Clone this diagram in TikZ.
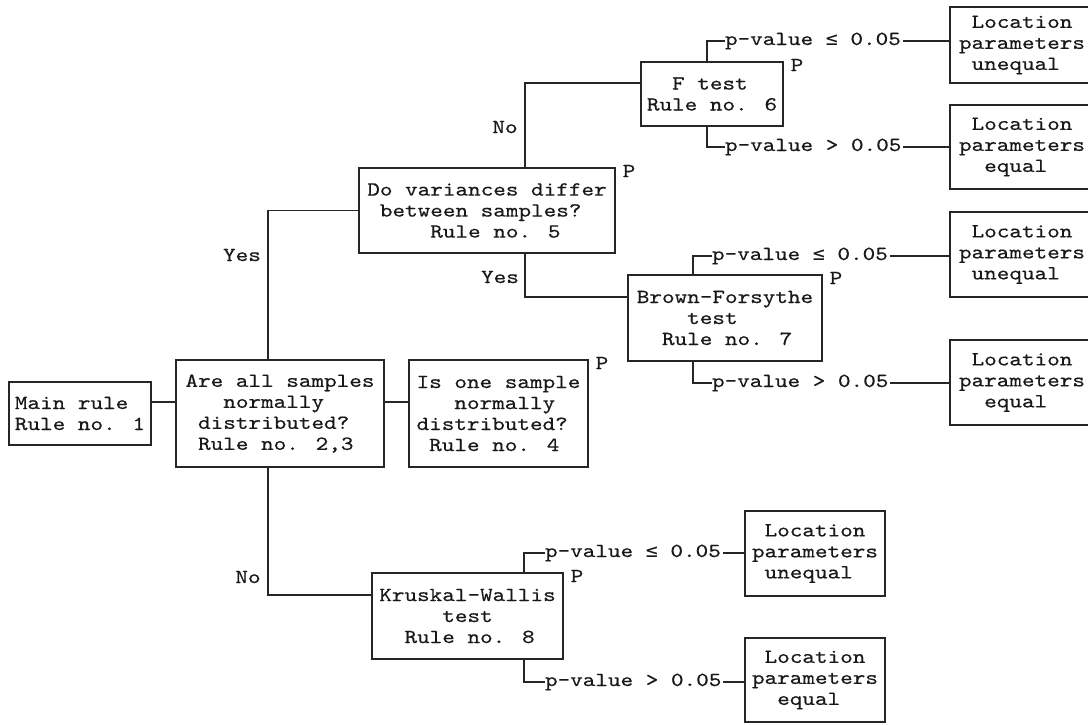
\documentclass[tikz,border=0pt]{standalone}
\usepackage{fontspec}
% typewriter face for all labels, widened to a Courier-like pitch
\newfontfamily\cour{lmmono10-regular.otf}[FakeStretch=1.2, FakeBold=0.4]
\newfontfamily\symmono{DejaVu Sans Mono}
\newcommand\lesym{{\symmono\fontsize{20}{21}\selectfont ≤}}
\newcommand\ind[1]{\hphantom{#1}}

\tikzset{
  txt/.style={font=\cour\fontsize{20}{21}\selectfont, text=black!90},
  box/.style={txt, draw, inner sep=0pt, outer sep=0pt, align=left},
  pv/.style={txt, anchor=west, inner sep=0pt, outer sep=0pt},
  lab/.style={txt, inner sep=0pt},
  wire/.style={draw=black!85, line width=1.3pt},
}

\begin{document}
\begin{tikzpicture}[x=1pt, y=-1pt, line width=1.2pt, draw=black!85]
\useasboundingbox[fill=white] (0,0) rectangle (1088,724);

% decision boxes
\node[box, minimum width=142, minimum height=63] (main) at (80,413.5)
  {Main rule\\Rule no. 1};
\node[box, minimum width=208, minimum height=107] (are) at (280,413.5)
  {Are all samples\\\ind{000}normally\\\ind{0}distributed?\\\ind{0}Rule no. 2,3};
\node[box, minimum width=179, minimum height=107] (is) at (498.5,413.5)
  {Is one sample\\\ind{000}normally\\distributed?\\\ind{0}Rule no. 4};
\node[box, minimum width=256, minimum height=85] (dov) at (487,210.5)
  {Do variances differ\\\ind{0}between samples?\\\ind{00000}Rule no. 5};
\node[box, minimum width=142, minimum height=64] (ft) at (712,94)
  {\ind{00}F test\\Rule no. 6};
\node[box, minimum width=194, minimum height=86] (bf) at (725,318)
  {Brown-Forsythe\\\ind{0000}test\\\ind{00}Rule no. 7};
\node[box, minimum width=191, minimum height=86] (kw) at (467.5,616)
  {Kruskal-Wallis\\\ind{00000}test\\\ind{00}Rule no. 8};

% outcome boxes
\node[box, minimum width=144, minimum height=76] (loc1) at (1022,45)
  {\ind{0}Location\\parameters\\\ind{0}unequal};
\node[box, minimum width=144, minimum height=84] (loc2) at (1022,147)
  {\ind{0}Location\\parameters\\\ind{00}equal};
\node[box, minimum width=144, minimum height=85] (loc3) at (1022,254.5)
  {\ind{0}Location\\parameters\\\ind{0}unequal};
\node[box, minimum width=144, minimum height=85] (loc4) at (1022,382.5)
  {\ind{0}Location\\parameters\\\ind{00}equal};
\node[box, minimum width=140, minimum height=85] (loc5) at (815,553.5)
  {\ind{0}Location\\parameters\\\ind{0}unequal};
\node[box, minimum width=140, minimum height=84] (loc6) at (815,680)
  {\ind{0}Location\\parameters\\\ind{00}equal};

% test outcomes
\node[pv] (pv1) at (725,41)  {p-value \lesym{} 0.05};
\node[pv] (pv2) at (725,147) {p-value > 0.05};
\node[pv] (pv3) at (712,256) {p-value \lesym{} 0.05};
\node[pv] (pv4) at (712,383) {p-value > 0.05};
\node[pv] (pv5) at (545,553) {p-value \lesym{} 0.05};
\node[pv] (pv6) at (545,682) {p-value > 0.05};

% branch labels
\node[lab] (no1)  at (505,127) {No};
\node[lab] (yes1) at (242,255) {Yes};
\node[lab] (yes2) at (500,277) {Yes};
\node[lab] (no2)  at (248,577) {No};

% P marks at the upper right corners
\node[lab] (pdov) at ([shift={(14,3)}]dov.north east) {P};
\node[lab] (pft)  at ([shift={(14,3)}]ft.north east)  {P};
\node[lab] (pis)  at ([shift={(14,3)}]is.north east)  {P};
\node[lab] (pbf)  at ([shift={(14,3)}]bf.north east)  {P};
\node[lab] (pkw)  at ([shift={(14,3)}]kw.north east)  {P};

% connectors
\draw[wire] (main.east |- 0,402) -- (are.west |- 0,402);
\draw[wire] (are.east |- 0,402) -- (is.west |- 0,402);
\draw[wire] (are.north -| 268,0) |- (dov.west);
\draw[wire] (are.south -| 268,0) |- (kw.west |- 0,595);
\draw[wire] (dov.north -| 525,0) |- (ft.west |- 0,83);
\draw[wire] (dov.south -| 525,0) |- (bf.west |- 0,297);

\draw[wire] (ft.north -| 707,0) |- (pv1.west);
\draw[wire] (ft.south -| 707,0) |- (pv2.west);
\draw[wire] (bf.north -| 693,0) |- (pv3.west);
\draw[wire] (bf.south -| 693,0) |- (pv4.west);
\draw[wire] (kw.north -| 524,0) |- (pv5.west);
\draw[wire] (kw.south -| 524,0) |- (pv6.west);

\draw[wire] ([xshift=2]pv1.east) -- (pv1.east -| loc1.west);
\draw[wire] ([xshift=2]pv2.east) -- (pv2.east -| loc2.west);
\draw[wire] ([xshift=2]pv3.east) -- (pv3.east -| loc3.west);
\draw[wire] ([xshift=2]pv4.east) -- (pv4.east -| loc4.west);
\draw[wire] ([xshift=2]pv5.east) -- (pv5.east -| loc5.west);
\draw[wire] ([xshift=2]pv6.east) -- (pv6.east -| loc6.west);
\end{tikzpicture}
\end{document}
